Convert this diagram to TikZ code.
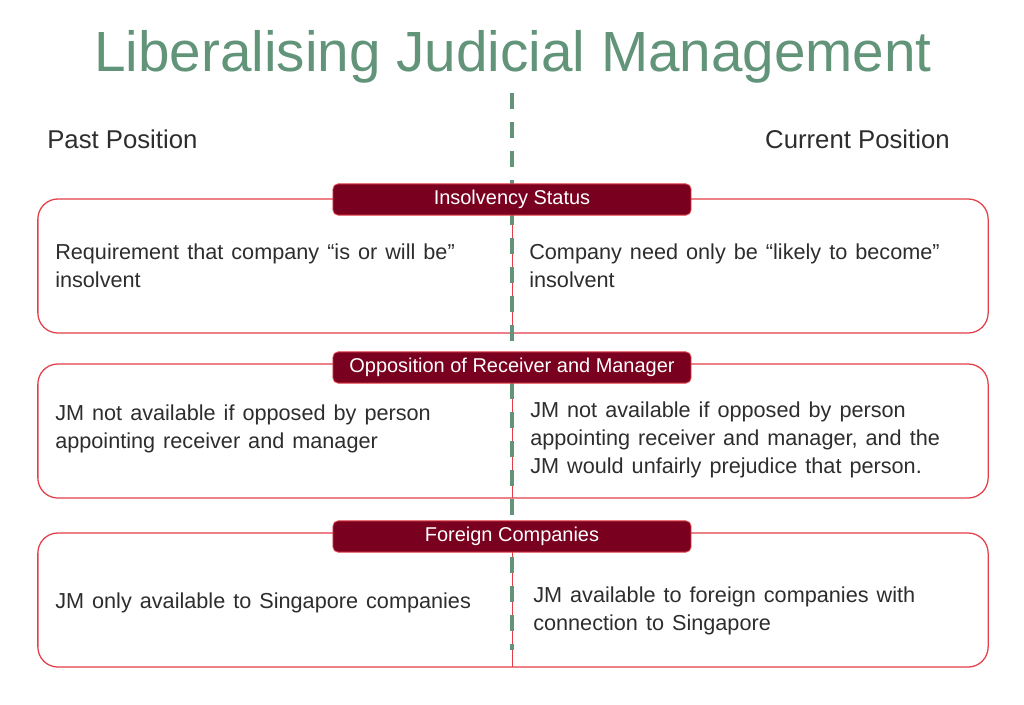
\documentclass[tikz,border=0pt]{standalone}
\usepackage{fontspec}
\setmainfont{Liberation Sans}
\usepackage{tikz}

\definecolor{jmgreen}{RGB}{98,148,122}
\definecolor{jmred}{RGB}{228,62,72}
\definecolor{jmwine}{RGB}{122,0,32}
\definecolor{jmtext}{RGB}{45,45,45}

\newcommand{\jmbody}{\fontsize{15.4}{19.9}\selectfont\spaceskip 0.37em plus 0.1em\relax}

\tikzset{
  panel/.style={draw=jmred, line width=0.9pt, rounded corners=0.5cm,
    minimum width=23.75cm, minimum height=3.35cm, inner sep=0pt},
  tab/.style={draw=jmred, line width=0.6pt, fill=jmwine, rounded corners=0.13cm,
    minimum width=8.95cm, minimum height=0.78cm, inner sep=0pt,
    text height=0.72em, text depth=0pt,
    text=white, font=\fontsize{14.2}{16}\selectfont},
  body/.style={anchor=west, align=left, text=jmtext, inner sep=0pt, font=\jmbody},
  side/.style={text=jmtext, inner sep=0pt, anchor=base, font=\fontsize{18.3}{20}\selectfont},
  divider/.style={draw=jmred, line width=0.7pt},
  axis/.style={draw=jmgreen, line width=2.7pt, dash pattern=on 0.4cm off 0.325cm}
}

\begin{document}
\begin{tikzpicture}[x=0.025cm,y=-0.025cm]
\useasboundingbox (0,0) rectangle (1024,704);

%% title and column heads
\node[text=jmgreen, anchor=base, font=\fontsize{40.3}{42}\selectfont] (title) at (513,71) {Liberalising Judicial Management};
\node[side, anchor=base west] (past) at (47,148) {Past Position};
\node[side, anchor=base east] (current) at (950,148) {Current Position};

%% panels
\node[panel] (box1) at (513,266) {};
\node[panel] (box2) at (513,431) {};
\node[panel] (box3) at (513,600) {};

%% dividers
\coordinate (d1) at (512,333);
\coordinate (d2) at (512,498);
\coordinate (d3) at (512,667);
\draw[divider] (512,215) -- (d1);
\draw[divider] (512,383) -- (d2);
\draw[divider] (512,552) -- (d3);

%% green centre line
\coordinate (top) at (512,93);
\coordinate (bot) at (512,650);
\draw[axis] (top) -- (bot);

%% tabs
\node[tab] (tab1) at (512,199.5) {Insolvency Status};
\node[tab] (tab2) at (512,367.5) {Opposition of Receiver and Manager};
\node[tab] (tab3) at (512,536.5) {Foreign Companies};

%% texts, left column
\node[body] (l1) at (55,266) {Requirement that company “is or will be”\\insolvent};
\node[body] (l2) at (55,429) {JM not available if opposed by person\\appointing receiver and manager};
\node[body] (l3) at (55,603) {JM only available to Singapore companies};

%% texts, right column
\node[body] (r1) at (529,266) {Company need only be “likely to become”\\insolvent};
\node[body] (r2) at (530,440) {JM not available if opposed by person\\appointing receiver and manager, and the\\JM would unfairly prejudice that person.};
\node[body] (r3) at (533,611) {JM available to foreign companies with\\connection to Singapore};

\end{tikzpicture}
\end{document}
